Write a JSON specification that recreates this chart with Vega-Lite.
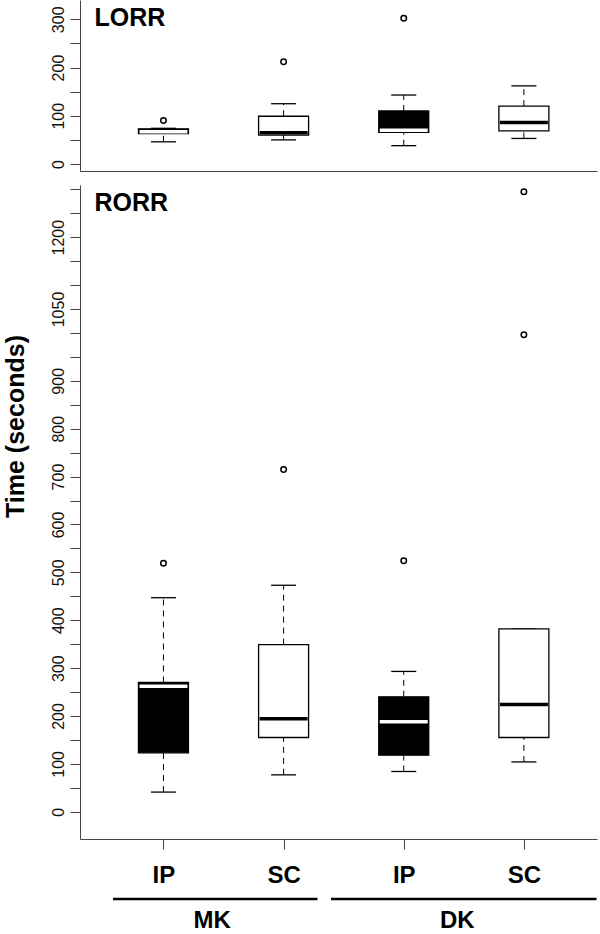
{
  "$schema": "https://vega.github.io/schema/vega-lite/v6.json",
  "padding": {"left": 3, "top": 0, "right": 0, "bottom": 0},
  "spacing": 14,
  "bounds": "flush",
  "config": {
    "view": {"stroke": null},
    "font": "Liberation Sans",
    "tick": {"opacity": 1},
    "title": {"anchor": "start", "frame": "group", "orient": "top", "offset": -31, "baseline": "alphabetic", "dx": 14.5, "fontSize": 25, "fontWeight": "bold", "color": "black", "font": "Liberation Sans"},
    "axis": {"grid": false, "domainColor": "#444", "tickColor": "#444", "domainWidth": 1, "tickWidth": 1, "labelColor": "#111", "labelFont": "Liberation Sans", "titleFont": "Liberation Sans"}
  },
  "datasets": {
    "boxes": [
      {"panel": "LORR", "group": "MK", "route": "IP", "pos": 1, "lo": 46, "q1": 63, "med": 67, "q3": 73, "hi": 74},
      {"panel": "LORR", "group": "MK", "route": "SC", "pos": 2, "lo": 50, "q1": 60, "med": 65, "q3": 99, "hi": 125},
      {"panel": "LORR", "group": "DK", "route": "IP", "pos": 3, "lo": 38, "q1": 65.5, "med": 70, "q3": 110, "hi": 143},
      {"panel": "LORR", "group": "DK", "route": "SC", "pos": 4, "lo": 53, "q1": 68.5, "med": 86, "q3": 120, "hi": 162},
      {"panel": "RORR", "group": "MK", "route": "IP", "pos": 1, "lo": 41, "q1": 123, "med": 262, "q3": 270, "hi": 447},
      {"panel": "RORR", "group": "MK", "route": "SC", "pos": 2, "lo": 77, "q1": 155, "med": 194, "q3": 349, "hi": 473},
      {"panel": "RORR", "group": "DK", "route": "IP", "pos": 3, "lo": 84, "q1": 118, "med": 188, "q3": 240, "hi": 293},
      {"panel": "RORR", "group": "DK", "route": "SC", "pos": 4, "lo": 104, "q1": 155, "med": 224, "q3": 382, "hi": 382}
    ],
    "outliers": [
      {"panel": "LORR", "pos": 1, "value": 90},
      {"panel": "LORR", "pos": 2, "value": 212},
      {"panel": "LORR", "pos": 3, "value": 302},
      {"panel": "RORR", "pos": 1, "value": 519},
      {"panel": "RORR", "pos": 2, "value": 715},
      {"panel": "RORR", "pos": 3, "value": 524},
      {"panel": "RORR", "pos": 4, "value": 996},
      {"panel": "RORR", "pos": 4, "value": 1295}
    ]
  },
  "vconcat": [
    {
      "title": "LORR",
      "width": 517,
      "height": 171,
      "data": {"name": "boxes"},
      "transform": [{"filter": "datum.panel == 'LORR'"}],
      "encoding": {
        "x": {"field": "pos", "type": "quantitative", "scale": {"domain": [0.347, 4.567], "nice": false, "zero": false},
          "axis": {"values": [], "ticks": false, "labels": false, "title": null}}
      },
      "layer": [
        {"mark": {"type": "rule", "color": "black", "strokeWidth": 1, "strokeDash": [6, 5]},
          "encoding": {
            "y": {"field": "q3", "type": "quantitative", "scale": {"domain": [-14.5, 340], "nice": false, "zero": false},
              "axis": {"values": [0, 50, 100, 150, 200, 250, 300], "format": "d", "labelExpr": "datum.value % 100 == 0 ? datum.label : ''",
                "title": null, "labelAngle": 270, "labelAlign": "center", "labelBaseline": "bottom", "labelPadding": 4, "tickSize": 10,
                "labelFontSize": 16, "labelOverlap": false, "labelFlush": false}},
            "y2": {"field": "hi"}
          }},
        {"mark": {"type": "rule", "color": "black", "strokeWidth": 1, "strokeDash": [6, 5]},
          "encoding": {"y": {"field": "lo", "type": "quantitative",
              "axis": {"values": [0, 50, 100, 150, 200, 250, 300], "format": "d", "labelExpr": "datum.value % 100 == 0 ? datum.label : ''",
                "title": null, "labelAngle": 270, "labelAlign": "center", "labelBaseline": "bottom", "labelPadding": 4, "tickSize": 10,
                "labelFontSize": 16, "labelOverlap": false, "labelFlush": false}},
            "y2": {"field": "q1"}}},
        {"mark": {"type": "tick", "orient": "horizontal", "color": "black", "size": 25, "thickness": 1.3},
          "encoding": {"y": {"field": "hi", "type": "quantitative",
              "axis": {"values": [0, 50, 100, 150, 200, 250, 300], "format": "d", "labelExpr": "datum.value % 100 == 0 ? datum.label : ''",
                "title": null, "labelAngle": 270, "labelAlign": "center", "labelBaseline": "bottom", "labelPadding": 4, "tickSize": 10,
                "labelFontSize": 16, "labelOverlap": false, "labelFlush": false}}}},
        {"mark": {"type": "tick", "orient": "horizontal", "color": "black", "size": 25, "thickness": 1.3},
          "encoding": {"y": {"field": "lo", "type": "quantitative",
              "axis": {"values": [0, 50, 100, 150, 200, 250, 300], "format": "d", "labelExpr": "datum.value % 100 == 0 ? datum.label : ''",
                "title": null, "labelAngle": 270, "labelAlign": "center", "labelBaseline": "bottom", "labelPadding": 4, "tickSize": 10,
                "labelFontSize": 16, "labelOverlap": false, "labelFlush": false}}}},
        {"mark": {"type": "bar", "width": 50, "stroke": "black", "strokeWidth": 1.3},
          "encoding": {"y": {"field": "q1", "type": "quantitative",
              "axis": {"values": [0, 50, 100, 150, 200, 250, 300], "format": "d", "labelExpr": "datum.value % 100 == 0 ? datum.label : ''",
                "title": null, "labelAngle": 270, "labelAlign": "center", "labelBaseline": "bottom", "labelPadding": 4, "tickSize": 10,
                "labelFontSize": 16, "labelOverlap": false, "labelFlush": false}},
            "y2": {"field": "q3"},
            "fill": {"condition": {"test": "datum.route == 'IP'", "value": "black"}, "value": "white"}}},
        {"mark": {"type": "tick", "orient": "horizontal", "size": 48, "thickness": 3.5, "opacity": 1},
          "encoding": {"y": {"field": "med", "type": "quantitative",
              "axis": {"values": [0, 50, 100, 150, 200, 250, 300], "format": "d", "labelExpr": "datum.value % 100 == 0 ? datum.label : ''",
                "title": null, "labelAngle": 270, "labelAlign": "center", "labelBaseline": "bottom", "labelPadding": 4, "tickSize": 10,
                "labelFontSize": 16, "labelOverlap": false, "labelFlush": false}},
            "color": {"condition": {"test": "datum.route == 'IP'", "value": "white"}, "value": "black"}}},
        {"data": {"name": "outliers"}, "transform": [{"filter": "datum.panel == 'LORR'"}],
          "mark": {"type": "point", "shape": "circle", "filled": false, "stroke": "black", "strokeWidth": 1.5, "size": 30, "opacity": 1},
          "encoding": {"y": {"field": "value", "type": "quantitative",
              "axis": {"values": [0, 50, 100, 150, 200, 250, 300], "format": "d", "labelExpr": "datum.value % 100 == 0 ? datum.label : ''",
                "title": null, "labelAngle": 270, "labelAlign": "center", "labelBaseline": "bottom", "labelPadding": 4, "tickSize": 10,
                "labelFontSize": 16, "labelOverlap": false, "labelFlush": false}}}}
      ]
    },
    {
      "title": "RORR",
      "width": 517,
      "height": 654,
      "data": {"name": "boxes"},
      "transform": [{"filter": "datum.panel == 'RORR'"}],
      "encoding": {
        "x": {"field": "pos", "type": "quantitative", "scale": {"domain": [0.347, 4.567], "nice": false, "zero": false},
          "axis": {"values": [1, 2, 3, 4], "labelExpr": "datum.value % 2 == 1 ? 'IP' : 'SC'", "title": null, "tickSize": 10,
            "labelFontSize": 24, "labelFontWeight": "bold", "labelColor": "black", "labelPadding": 14, "labelFlush": false, "labelOverlap": false}}
      },
      "layer": [
        {"mark": {"type": "rule", "color": "black", "strokeWidth": 1, "strokeDash": [6, 5]},
          "encoding": {
            "y": {"field": "q3", "type": "quantitative", "scale": {"domain": [-57, 1309], "nice": false, "zero": false},
              "axis": {"values": [0, 50, 100, 150, 200, 250, 300, 350, 400, 450, 500, 550, 600, 650, 700, 750, 800, 850, 900, 950, 1000, 1050, 1100, 1150, 1200, 1250, 1300],
                "format": "d",
                "labelExpr": "(datum.value <= 900 && datum.value % 100 == 0) || datum.value == 1050 || datum.value == 1200 ? datum.label : ''",
                "title": "Time (seconds)", "titleFontSize": 25, "titleFontWeight": "bold", "titleColor": "black", "titleY": 241, "titlePadding": 22,
                "labelAngle": 270, "labelAlign": "center", "labelBaseline": "bottom", "labelPadding": 4, "tickSize": 10,
                "labelFontSize": 16, "labelOverlap": false, "labelFlush": false}},
            "y2": {"field": "hi"}
          }},
        {"mark": {"type": "rule", "color": "black", "strokeWidth": 1, "strokeDash": [6, 5]},
          "encoding": {"y": {"field": "lo", "type": "quantitative",
              "axis": {"values": [0, 50, 100, 150, 200, 250, 300, 350, 400, 450, 500, 550, 600, 650, 700, 750, 800, 850, 900, 950, 1000, 1050, 1100, 1150, 1200, 1250, 1300],
                "format": "d",
                "labelExpr": "(datum.value <= 900 && datum.value % 100 == 0) || datum.value == 1050 || datum.value == 1200 ? datum.label : ''",
                "title": "Time (seconds)", "titleFontSize": 25, "titleFontWeight": "bold", "titleColor": "black", "titleY": 241, "titlePadding": 22,
                "labelAngle": 270, "labelAlign": "center", "labelBaseline": "bottom", "labelPadding": 4, "tickSize": 10,
                "labelFontSize": 16, "labelOverlap": false, "labelFlush": false}},
            "y2": {"field": "q1"}}},
        {"mark": {"type": "tick", "orient": "horizontal", "color": "black", "size": 25, "thickness": 1.3},
          "encoding": {"y": {"field": "hi", "type": "quantitative",
              "axis": {"values": [0, 50, 100, 150, 200, 250, 300, 350, 400, 450, 500, 550, 600, 650, 700, 750, 800, 850, 900, 950, 1000, 1050, 1100, 1150, 1200, 1250, 1300],
                "format": "d",
                "labelExpr": "(datum.value <= 900 && datum.value % 100 == 0) || datum.value == 1050 || datum.value == 1200 ? datum.label : ''",
                "title": "Time (seconds)", "titleFontSize": 25, "titleFontWeight": "bold", "titleColor": "black", "titleY": 241, "titlePadding": 22,
                "labelAngle": 270, "labelAlign": "center", "labelBaseline": "bottom", "labelPadding": 4, "tickSize": 10,
                "labelFontSize": 16, "labelOverlap": false, "labelFlush": false}}}},
        {"mark": {"type": "tick", "orient": "horizontal", "color": "black", "size": 25, "thickness": 1.3},
          "encoding": {"y": {"field": "lo", "type": "quantitative",
              "axis": {"values": [0, 50, 100, 150, 200, 250, 300, 350, 400, 450, 500, 550, 600, 650, 700, 750, 800, 850, 900, 950, 1000, 1050, 1100, 1150, 1200, 1250, 1300],
                "format": "d",
                "labelExpr": "(datum.value <= 900 && datum.value % 100 == 0) || datum.value == 1050 || datum.value == 1200 ? datum.label : ''",
                "title": "Time (seconds)", "titleFontSize": 25, "titleFontWeight": "bold", "titleColor": "black", "titleY": 241, "titlePadding": 22,
                "labelAngle": 270, "labelAlign": "center", "labelBaseline": "bottom", "labelPadding": 4, "tickSize": 10,
                "labelFontSize": 16, "labelOverlap": false, "labelFlush": false}}}},
        {"mark": {"type": "bar", "width": 50, "stroke": "black", "strokeWidth": 1.3},
          "encoding": {"y": {"field": "q1", "type": "quantitative",
              "axis": {"values": [0, 50, 100, 150, 200, 250, 300, 350, 400, 450, 500, 550, 600, 650, 700, 750, 800, 850, 900, 950, 1000, 1050, 1100, 1150, 1200, 1250, 1300],
                "format": "d",
                "labelExpr": "(datum.value <= 900 && datum.value % 100 == 0) || datum.value == 1050 || datum.value == 1200 ? datum.label : ''",
                "title": "Time (seconds)", "titleFontSize": 25, "titleFontWeight": "bold", "titleColor": "black", "titleY": 241, "titlePadding": 22,
                "labelAngle": 270, "labelAlign": "center", "labelBaseline": "bottom", "labelPadding": 4, "tickSize": 10,
                "labelFontSize": 16, "labelOverlap": false, "labelFlush": false}},
            "y2": {"field": "q3"},
            "fill": {"condition": {"test": "datum.route == 'IP'", "value": "black"}, "value": "white"}}},
        {"mark": {"type": "tick", "orient": "horizontal", "size": 48, "thickness": 3.5, "opacity": 1},
          "encoding": {"y": {"field": "med", "type": "quantitative",
              "axis": {"values": [0, 50, 100, 150, 200, 250, 300, 350, 400, 450, 500, 550, 600, 650, 700, 750, 800, 850, 900, 950, 1000, 1050, 1100, 1150, 1200, 1250, 1300],
                "format": "d",
                "labelExpr": "(datum.value <= 900 && datum.value % 100 == 0) || datum.value == 1050 || datum.value == 1200 ? datum.label : ''",
                "title": "Time (seconds)", "titleFontSize": 25, "titleFontWeight": "bold", "titleColor": "black", "titleY": 241, "titlePadding": 22,
                "labelAngle": 270, "labelAlign": "center", "labelBaseline": "bottom", "labelPadding": 4, "tickSize": 10,
                "labelFontSize": 16, "labelOverlap": false, "labelFlush": false}},
            "color": {"condition": {"test": "datum.route == 'IP'", "value": "white"}, "value": "black"}}},
        {"data": {"name": "outliers"}, "transform": [{"filter": "datum.panel == 'RORR'"}],
          "mark": {"type": "point", "shape": "circle", "filled": false, "stroke": "black", "strokeWidth": 1.5, "size": 30, "opacity": 1},
          "encoding": {"y": {"field": "value", "type": "quantitative",
              "axis": {"values": [0, 50, 100, 150, 200, 250, 300, 350, 400, 450, 500, 550, 600, 650, 700, 750, 800, 850, 900, 950, 1000, 1050, 1100, 1150, 1200, 1250, 1300],
                "format": "d",
                "labelExpr": "(datum.value <= 900 && datum.value % 100 == 0) || datum.value == 1050 || datum.value == 1200 ? datum.label : ''",
                "title": "Time (seconds)", "titleFontSize": 25, "titleFontWeight": "bold", "titleColor": "black", "titleY": 241, "titlePadding": 22,
                "labelAngle": 270, "labelAlign": "center", "labelBaseline": "bottom", "labelPadding": 4, "tickSize": 10,
                "labelFontSize": 16, "labelOverlap": false, "labelFlush": false}}}}
      ]
    },
    {
      "width": 517,
      "height": 60,
      "data": {"name": "boxes"},
      "transform": [
        {"filter": "datum.panel == 'RORR'"},
        {"aggregate": [{"op": "min", "field": "pos", "as": "first"}, {"op": "max", "field": "pos", "as": "last"}, {"op": "mean", "field": "pos", "as": "centre"}], "groupby": ["group"]}
      ],
      "layer": [
        {"transform": [{"filter": "datum.group == 'MK'"}],
          "mark": {"type": "rule", "color": "black", "strokeWidth": 2.5, "yOffset": 16, "xOffset": -47, "x2Offset": 35},
          "encoding": {"x": {"field": "first", "type": "quantitative", "scale": {"domain": [0.347, 4.567], "nice": false, "zero": false}, "axis": null}, "x2": {"field": "last"}}},
        {"transform": [{"filter": "datum.group == 'DK'"}],
          "mark": {"type": "rule", "color": "black", "strokeWidth": 2.5, "yOffset": 16, "xOffset": -74, "x2Offset": 69},
          "encoding": {"x": {"field": "first", "type": "quantitative"}, "x2": {"field": "last"}}},
        {"mark": {"type": "text", "fontSize": 24, "fontWeight": "bold", "color": "black", "baseline": "alphabetic", "yOffset": 45, "dx": -9},
          "encoding": {"x": {"field": "centre", "type": "quantitative"}, "text": {"field": "group"}}}
      ]
    }
  ]
}
